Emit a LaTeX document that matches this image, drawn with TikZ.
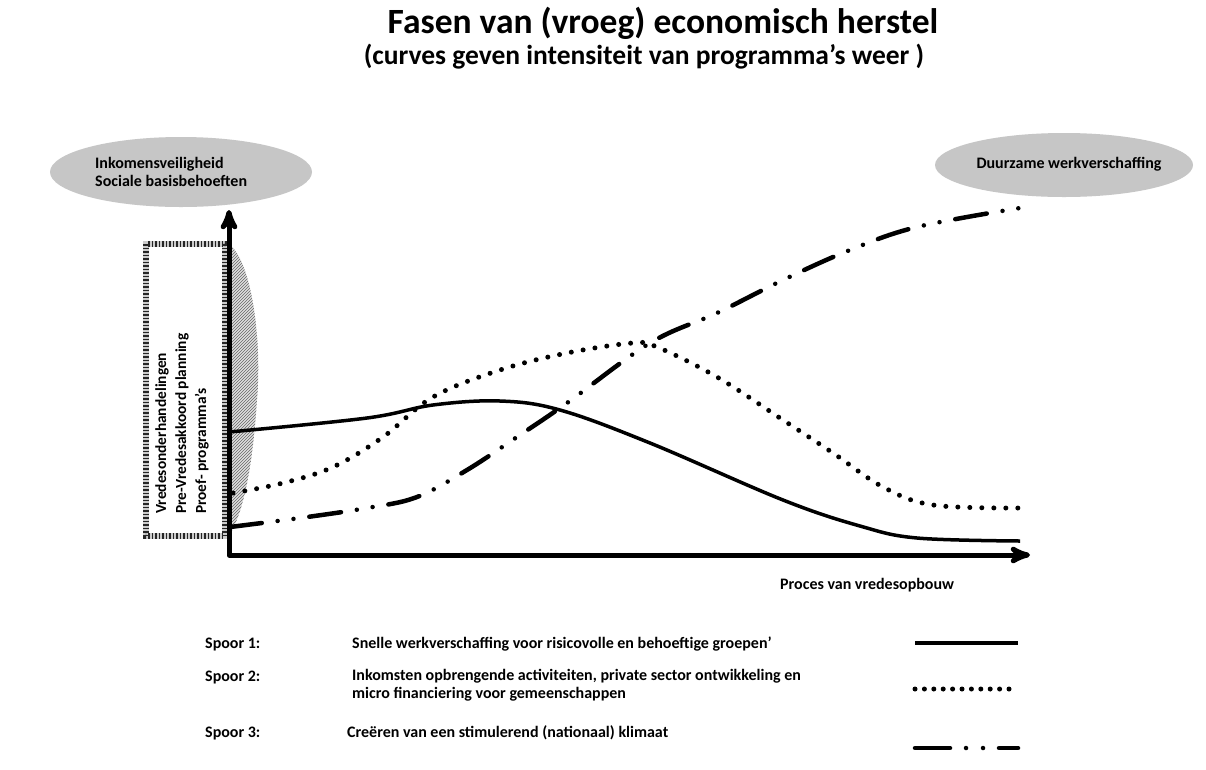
\documentclass[tikz,border=0pt]{standalone}
\usepackage{fontspec}
\setmainfont{Carlito}
\usetikzlibrary{positioning,arrows,patterns,shapes.geometric}

\begin{document}
\begin{tikzpicture}[x=1pt,y=-1pt,>=stealth',
    bubble/.style={ellipse,fill=gray!45,inner sep=0pt},
    small/.style={font=\fontsize{16}{18}\selectfont\bfseries,inner sep=0pt},
    spoorA/.style={line width=3.5pt},
    spoorB/.style={line width=5pt,line cap=round,dash pattern=on 0pt off 12pt},
    spoorC/.style={line width=4.5pt,line cap=round,dash pattern=on 32pt off 16pt on 0pt off 16pt on 0pt off 16pt}]
  \useasboundingbox[fill=white] (0,0) rectangle (1206,769);

  % titel
  \node (title) at (663,23) {\fontsize{35.5}{40}\selectfont\bfseries Fasen van (vroeg) economisch herstel};
  \node (subtitle) at (644,57) {\fontsize{27.5}{32}\selectfont\bfseries (curves geven intensiteit van programma's weer )};

  % ellipsen boven de assen
  \node [bubble,minimum width=262,minimum height=70] (safety) at (181,172) {};
  \node [small,align=left,anchor=west] (safetytext) at (95,172) {Inkomensveiligheid\\Sociale basisbehoeften};
  \node [bubble,minimum width=258,minimum height=64] (lasting) at (1064,165) {};
  \node [small] (lastingtext) at (1069,164) {Duurzame werkverschaffing};

  % startfase
  \draw [gray!40,line width=6pt] (146,244) rectangle (225,536);
  \draw [gray!30!black,line width=6pt,dash pattern=on 1.5pt off 2pt] (146,244) rectangle (225,536);
  \node [small,rotate=90,anchor=north west,align=left,font=\fontsize{15.4}{20}\selectfont\bfseries] (start) at (155,514)
    {Vredesonderhandelingen\\Pre-Vredesakkoord planning\\Proef- programma's};
  \fill [gray!25] (229,244) .. controls (252,262) and (262,340) .. (257,400)
    .. controls (253,460) and (245,510) .. (229,536) -- cycle;
  \fill [pattern=north east lines,pattern color=gray!80!black] (229,244) .. controls (252,262) and (262,340) .. (257,400)
    .. controls (253,460) and (245,510) .. (229,536) -- cycle;

  % assen
  \coordinate (origin) at (229,555);
  \coordinate (ytop) at (229,210);
  \coordinate (xend) at (1030,555);
  \draw [<->,line width=5pt,line join=round] (ytop) |- (xend);
  \node [small,anchor=west] (xlabel) at (780,585) {Proces van vredesopbouw};

  % curves
  \draw [spoorA] plot [smooth,tension=0.6] coordinates {(229,432) (367,418) (433,405) (500,401)
    (560,410) (650,443) (783,500) (860,526) (917,538) (1020,541)};
  \draw [spoorB] plot [smooth,tension=0.6] coordinates {(233,493) (283,483) (333,467) (383,437) (433,397)
    (500,370) (567,353) (633,343) (657,347) (717,377) (783,420) (833,453) (883,487) (933,505) (1020,508)};
  \draw [spoorC] plot [smooth,tension=0.6] coordinates {(230,527) (300,518) (367,508) (417,497) (467,470)
    (517,437) (567,403) (650,343) (717,313) (783,280) (850,250) (917,227) (1020,208)};

  % legenda
  \node [small,anchor=west] (s1) at (205,644) {Spoor 1:};
  \node [small,anchor=west] (s1text) at (352,644) {Snelle werkverschaffing voor risicovolle en behoeftige groepen'};
  \node [small,anchor=west] (s2) at (205,677) {Spoor 2:};
  \node [small,anchor=north west,align=left] (s2text) at (352,669) {Inkomsten opbrengende activiteiten, private sector ontwikkeling en\\micro financiering voor gemeenschappen};
  \node [small,anchor=west] (s3) at (205,733) {Spoor 3:};
  \node [small,anchor=west] (s3text) at (347,733) {Creëren van een stimulerend (nationaal) klimaat};

  \coordinate (l1a) at (915,643); \coordinate (l1b) at (1018,643);
  \coordinate (l2a) at (915,689); \coordinate (l2b) at (1018,689);
  \coordinate (l3a) at (915,748); \coordinate (l3b) at (1018,748);
  \draw [spoorA] (l1a) -- (l1b);
  \draw [spoorB,dash pattern=on 0pt off 9.4pt] (l2a) -- (l2b);
  \draw [spoorC,dash pattern=on 35pt off 16pt on 0pt off 17pt on 0pt off 16pt] (l3a) -- (l3b);
\end{tikzpicture}
\end{document}
